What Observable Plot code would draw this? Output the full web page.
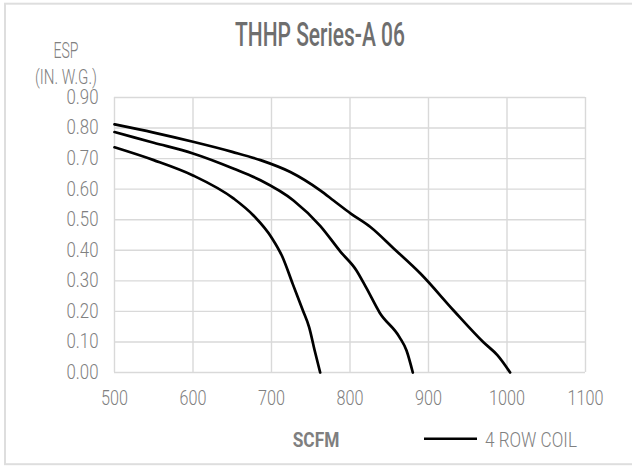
<!DOCTYPE html>
<html>
<head>
<meta charset="utf-8">
<script src="https://cdn.jsdelivr.net/npm/d3@7"></script>
<script src="https://cdn.jsdelivr.net/npm/@observablehq/plot@0.6"></script>
<style>
  html, body { margin: 0; padding: 0; background: #fff; }
  #chart { width: 632px; height: 466px; position: relative; overflow: hidden; }
</style>
</head>
<body>
<div id="chart"></div>
<script>
// ---- data ----
const title = "THHP Series-A 06";
const yLabelLines = ["ESP", "(IN. W.G.)"];
const xLabel = "SCFM";
const legendLabel = "4 ROW COIL";

const xTicks = [500, 600, 700, 800, 900, 1000, 1100];
const yTicks = [0, 0.1, 0.2, 0.3, 0.4, 0.5, 0.6, 0.7, 0.8, 0.9];

const highScfm = [500, 550, 600, 650, 686, 724, 762, 779, 801, 826, 856, 890, 932, 970, 988, 1004];
const highEsp  = [0.812, 0.785, 0.755, 0.722, 0.695, 0.656, 0.596, 0.563, 0.52, 0.476, 0.405, 0.323, 0.203, 0.099, 0.056, 0.0];

const midScfm = [500, 550, 600, 652, 686, 728, 762, 788, 808, 821, 838, 863, 872, 880];
const midEsp  = [0.787, 0.752, 0.717, 0.667, 0.629, 0.563, 0.48, 0.395, 0.335, 0.276, 0.195, 0.116, 0.072, 0.0];

const lowScfm = [500, 550, 600, 652, 677, 700, 714, 727, 740, 748, 755, 762];
const lowEsp  = [0.737, 0.695, 0.645, 0.569, 0.514, 0.442, 0.378, 0.29, 0.203, 0.148, 0.072, 0.0];

const series = [
  {name: "high", x: highScfm, y: highEsp},
  {name: "mid", x: midScfm, y: midEsp},
  {name: "low", x: lowScfm, y: lowEsp}
];
const rows = series.flatMap(s => s.x.map((v, i) => ({series: s.name, scfm: v, esp: s.y[i]})));

// ---- chart ----
const FONT = "Roboto, 'Noto Sans', sans-serif";
const plot = Plot.plot({
  width: 632,
  height: 466,
  marginTop: 97,
  marginBottom: 94,
  marginLeft: 114,
  marginRight: 47,
  style: {fontFamily: FONT, fontSize: "20px", fontWeight: 300, color: "#808080", background: "transparent"},
  x: {domain: [500, 1100], ticks: xTicks},
  y: {domain: [0, 0.9], ticks: yTicks},
  marks: [
    Plot.gridX(xTicks, {stroke: "#d9d9d9", strokeOpacity: 1, strokeWidth: 1.4}),
    Plot.gridY(yTicks, {stroke: "#d9d9d9", strokeOpacity: 1, strokeWidth: 1.4}),
    Plot.axisX({ticks: xTicks, tickSize: 0, tickPadding: 18, label: null, tickFormat: d3.format("d")}),
    Plot.axisY({ticks: yTicks, tickSize: 0, tickPadding: 16, label: null, tickFormat: d3.format(".2f")}),
    Plot.line(rows, {x: "scfm", y: "esp", z: "series", stroke: "#000", strokeWidth: 2.7, curve: "monotone-x"})
  ]
});
document.getElementById("chart").appendChild(plot);

// ---- helpers ----
function squeeze(el, s) {
  let x = +el.getAttribute("x") || 0, y = +el.getAttribute("y") || 0;
  let ax = x, ay = y;
  const tl = el.transform && el.transform.baseVal;
  if (tl && tl.numberOfItems) {
    const m = tl.consolidate().matrix;
    ax = m.a * x + m.c * y + m.e;
    ay = m.b * x + m.d * y + m.f;
  }
  const old = el.getAttribute("transform") || "";
  el.setAttribute("transform", `translate(${ax},${ay}) scale(${s},1) translate(${-ax},${-ay}) ${old}`);
}
function labelScale(sel, text, target) {
  const t = Array.from(plot.querySelectorAll(sel)).find(e => e.textContent === text);
  if (!t) return 0.82;
  return target / t.getComputedTextLength();
}

// condense tick labels
const xs = labelScale('g[aria-label="x-axis tick label"] text', "1000", 36);
const ys = labelScale('g[aria-label="y-axis tick label"] text', "0.90", 32);
plot.querySelectorAll('g[aria-label="x-axis tick label"] text').forEach(t => squeeze(t, xs));
plot.querySelectorAll('g[aria-label="y-axis tick label"] text').forEach(t => squeeze(t, ys));

// ---- annotations ----
const svg = d3.select(plot);
svg.insert("rect", ":first-child")
  .attr("x", 5).attr("y", 3.7).attr("width", 700).attr("height", 460.5)
  .attr("fill", "none").attr("stroke", "#dedede").attr("stroke-width", 2);

function addText(str, x, y, size, weight, color, anchor, width) {
  const t = svg.append("text")
    .attr("x", x).attr("y", y)
    .attr("text-anchor", anchor)
    .attr("font-family", FONT)
    .attr("font-size", size)
    .attr("font-weight", weight)
    .attr("fill", color)
    .text(str);
  const w = t.node().getComputedTextLength();
  if (w > 0 && width) squeeze(t.node(), width / w);
  return t;
}

addText(title, 320, 46, 33, 500, "#6e6e6e", "middle", 170);
addText(yLabelLines[0], 66, 58.5, 22, 300, "#808080", "middle", 25);
addText(yLabelLines[1], 66, 84.5, 21, 300, "#808080", "middle", 62);
addText(xLabel, 316, 447.3, 20.5, 700, "#7f7f7f", "middle", 46.7);

svg.append("line")
  .attr("x1", 424).attr("x2", 477).attr("y1", 438.7).attr("y2", 438.7)
  .attr("stroke", "#000").attr("stroke-width", 2.6);
addText(legendLabel, 485, 447.3, 20.5, 300, "#808080", "start", 92);
</script>
</body>
</html>
